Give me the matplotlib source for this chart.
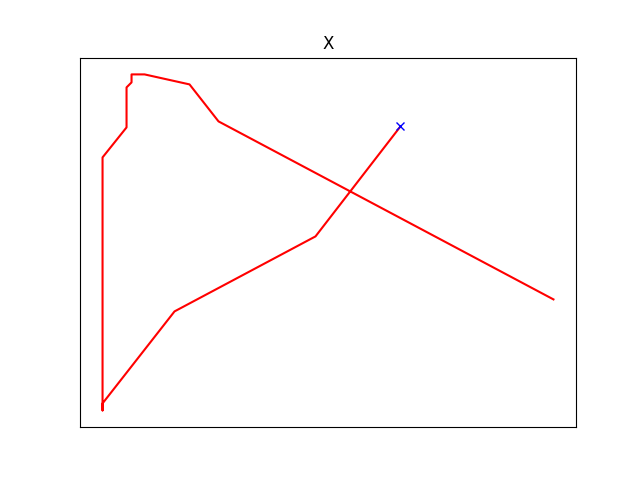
import matplotlib
matplotlib.use("Agg")
from matplotlib import pyplot as plt

# path values (no ticks shown, so units are arbitrary)
path_x = [400, 315, 174, 102, 102, 102, 126, 126, 131, 131, 144, 189, 218, 553]
path_y = [354, 244, 169, 77, 70, 323, 353, 393, 398, 406, 406, 396, 359, 181]

start_x = [path_x[0]]
start_y = [path_y[0]]

fig, ax = plt.subplots(figsize=(6.4, 4.8), dpi=100)
ax.plot(path_x, path_y, color='r', linewidth=1.5)
ax.plot(start_x, start_y, 'bx')
ax.set_title("X")
ax.set_xticks([])
ax.set_yticks([])

fig.savefig("out.png")
